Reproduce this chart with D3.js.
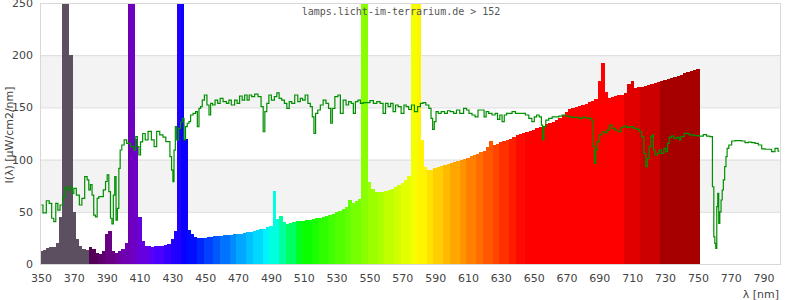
<!DOCTYPE html>
<html><head><meta charset="utf-8">
<script src="https://cdn.jsdelivr.net/npm/d3@7"></script>
<style>body{margin:0;background:#fff}</style>
</head><body><svg id="c" width="800" height="300"></svg>
<script>
// Spectrum (2 nm bins, 350..750 nm), µW/cm2/nm
const specNm = d3.range(350, 751, 2);
const spectrum = [
  12,13,15,16,16,20,45,420,420,200,50,24,17,14,13,
  16,14,11,10,12,29,32,12,11,12,
  14,20,420,420,120,45,22,17,17,16,
  17,17,17,18,19,24,32,420,420,120,
  33,29,26,25,25,25,25.5,26,26.5,27,
  27,27.5,28,28,28.5,28.5,29,30,30.5,31,
  32,33,33.5,34,35,36,70,43,46,40,
  38,39,40,41,41,41.5,42,42.5,43,44,
  44,45,46,47,48,50,51,53,55,61,
  58,60,62,420,420,79,72,69,69,69,
  70,71,72,74,76,78,80,84,420,420,
  420,119,93,90,90,92,93,94,95,96,
  97,98,99,100,101,102,103,104,105,107,
  108,112,118,114,115,117,118,119,120,122,
  123.5,124.5,125.5,126.5,127.5,128,130,131,132,134,
  135,136,138,140,143,146,148,149.5,150.5,151,
  152,153,155,156,158,175,193,165,159,160,
  160.5,161.5,162,164,172,175,169,169.5,170,170.5,
  171.5,172,173,174,175,176,177,178,179,180,
  181.5,182.5,183.5,185,186,186.5
];
// Second (green) curve: [nm, value]
const reference = [
 [350.2,56.5],[352.2,49],[354.3,60.6],[355.7,58],[357.3,43.8],[358.3,40.5],[359.7,58],[360.8,51.7],[362.4,56.5],[364,64.5],
 [365.4,73.4],[366.8,71],[368.5,74],[369.5,67.6],[370.5,72.5],[372.5,66],[374.2,56.5],[375.6,62.9],[377.6,83.6],[378.6,80.5],
 [379.6,71],[380.6,76],[381.6,66],[382.6,46.9],[383.7,45.2],[384.7,62.9],[385.7,64.5],[387.1,64.5],[388.8,71],[389.8,79],
 [390.8,85.3],[391.8,69.3],[392.8,43.8],[393.6,38.3],[394.5,66],[395.3,83.6],[396.1,42],[396.9,53.3],[397.9,91.6],[398.5,109.2],
 [399.9,114],[401.4,118.8],[403,115.6],[406.1,112.4],[407.1,109],[408.3,122],[409.1,112.4],[410.1,104.4],[411.1,117],[412.7,125],
 [414.2,118.8],[416.2,127],[418.2,118.8],[419.6,112.4],[421.3,127],[423.3,123.6],[425.3,121.5],[426.7,117.2],[428,117.2],[429,102.8],
 [430,89.9],[430.6,78.9],[431.4,109],[432.2,131.5],[433,118.8],[434.5,130],[435.5,136],[436.7,139.5],[437.5,118.8],[438.5,131.5],
 [439.6,134.8],[440.6,136.3],[441.6,142.7],[443.6,144.3],[444.7,145.9],[445.7,131.5],[446.7,149],[447.7,150.7],[448.7,157],[450.3,161.9],
 [451.8,152.3],[452.8,142.7],[453.8,153.9],[455.2,152.3],[456.8,157],[458.4,153.9],[459.8,158.7],[461.9,155.5],[463.9,153.9],[464.9,157],
 [466.9,152.3],[468.9,157],[469.9,153.9],[472,160.9],[473,157],[475,161.9],[476,157],[477.5,161.9],[479.1,160.3],[481.1,162.8],
 [483.2,160.3],[484.8,150.7],[485.8,126.7],[486.8,145.9],[488.2,153.9],[489.3,161.9],[491.3,157],[492.9,160.3],[494.3,164],[495.7,158.7],
 [497.4,157],[499,153.9],[500.4,149],[501.9,155.5],[503.5,153.9],[505.5,161.9],[507.2,155.5],[508.6,158.7],[510,157],[511.7,161.9],
 [513.3,153.9],[514.7,150.7],[515.7,141],[516.7,125],[517.7,144.3],[519.4,147.5],[520.8,152.3],[522.8,157],[524.3,153.9],[525.9,149],
 [526.9,134.8],[527.9,149],[530,160.3],[531.6,161.9],[533,144.3],[535,157],[536.5,152.3],[538.1,155.5],[539.7,153.9],[540.7,144.3],
 [542.2,155.5],[543.8,157],[545.2,153.9],[547.2,154.6],[549.2,154.6],[551.4,156.4],[553.4,153.9],[555.5,155.5],[557.5,153.9],[559.1,144.3],
 [560.5,153.9],[562.2,150.7],[563.6,153.9],[565.2,145.9],[566.6,152.3],[568.3,150.7],[570.3,144.3],[571.7,152.3],[573.1,150.7],[574.7,148],
 [576.4,152.3],[578.4,145.9],[580.2,150.7],[581.9,153.9],[583.3,154.6],[585.3,152.3],[587,149],[588,139.5],[589,128.9],[590,136.3],
 [591.1,145.9],[592.7,144.3],[594.7,145.9],[596.8,144.3],[598.2,146.8],[600.2,145.9],[602.3,144.3],[603.7,147.5],[606.3,144.3],[608.4,149],
 [609.8,147.5],[611.4,144.3],[613.5,142.7],[615.1,141],[617.1,147.5],[619.1,147.5],[620.5,141],[621.6,145.9],[623.6,144.3],[625.7,142.7],
 [627.3,144.3],[628.7,138.5],[630.1,142.7],[631.4,136.3],[632.8,142.7],[634.2,144.3],[635.8,144.3],[637.9,145.9],[639.9,144.3],[641.9,144.3],
 [644,144.3],[646,142.7],[648.1,139.5],[649.7,136.3],[651.1,141],[652.5,142.7],[654.2,141],[655.2,133.1],[655.8,118.8],[656.6,131.5],
 [658.2,137.9],[660.2,139.5],[662.3,141],[664.3,141],[666.3,141.7],[668.4,142.7],[670.4,141.7],[672.4,141],[674.5,140.4],[676.5,140.4],
 [678.6,139.5],[680.6,140.4],[682.6,140],[684.6,139.5],[685.7,137.9],[686.7,112.4],[687.3,96.4],[688.3,109.2],[689.3,117.2],[690.8,123.6],
 [692.4,126.7],[694.1,125.8],[695.5,128.3],[696.9,133.1],[698.5,129.9],[700.5,128.3],[702.6,126.7],[704.2,130.9],[705.6,132.1],[707.6,130.9],
 [709.7,131.5],[711.7,129.9],[713.7,128.9],[715.1,126.7],[716.4,122],[717.8,106],[718.8,93.2],[719.8,101.1],[720.8,112.4],[721.9,122],
 [722.5,123.6],[723.3,109.2],[724.5,104.4],[725.9,106],[726.9,109.2],[728.6,106],[730,110.8],[731,107.6],[732,115.6],[733,121.3],
 [734.7,122.5],[736.1,120.3],[738.1,121.3],[739.1,118.8],[740.1,122],[743.2,125.1],[746.2,123.6],[749.2,122.9],[752.3,122.5],[754.3,124],
 [756.3,122.5],[758.3,122],[759.4,74],[760,26],[760.6,19.8],[761.2,15],[761.8,55],[762.4,67.6],[763,39],[763.7,50],
 [764.5,61.3],[765.1,70.9],[765.9,80.5],[766.7,93.2],[767.5,102.8],[768.1,110.8],[769.6,114],[771.6,117.8],[773.6,118.2],[775.7,118.2],
 [777.7,117.8],[779.7,116.2],[781.7,116.8],[783.8,116.2],[785.8,115.6],[787.8,114],[789.9,110.2],[791.9,109.9],[793.9,109.9],[795.9,107.6],
 [798,110.8],[799.6,108.2]
];
const xTicks = d3.range(350, 791, 20);
const yTicks = [0, 50, 100, 150, 200, 250];
const title = "lamps.licht-im-terrarium.de > 152";
const xLabel = "λ [nm]";
const yLabel = "I(λ) [µW/cm2/nm]";

const svg = d3.select("#c");
const L = 41, R = 780, T = 3, B = 264;
const x = d3.scaleLinear().domain([350, 800]).range([L, R]);
const y = d3.scaleLinear().domain([0, 250]).range([B, T]);

function waveColor(w) {
  if (w < 379) return "#5c5060";
  const q = Math.floor(w / 5) * 5 + 2.5;
  let r, g, b;
  if (q < 440) { r = (440 - q) / 60; g = 0; b = 1; }
  else if (q < 490) { r = 0; g = (q - 440) / 50; b = 1; }
  else if (q < 510) { r = 0; g = 1; b = (510 - q) / 20; }
  else if (q < 580) { r = (q - 510) / 70; g = 1; b = 0; }
  else if (q < 645) { r = 1; g = (645 - q) / 65; b = 0; }
  else { r = 1; g = 0; b = 0; }
  let f = 1;
  if (q < 420) f = 0.3 + 0.7 * (q - 380) / 40;
  else if (w >= 727) f = 0.65;
  else if (w >= 716) f = 0.8;
  else if (w >= 705) f = 0.88;
  return d3.rgb(r * f * 255, g * f * 255, b * f * 255).formatHex();
}

// bands
svg.append("g").selectAll("rect").data([[50, 100], [150, 200]]).join("rect")
  .attr("x", L).attr("width", R - L)
  .attr("y", d => y(d[1])).attr("height", d => y(d[0]) - y(d[1]))
  .attr("fill", "#f3f3f3");
// grid
svg.append("g").selectAll("line").data(yTicks.filter(v => v > 0)).join("line")
  .attr("x1", L).attr("x2", R).attr("y1", d => y(d) + 0.5).attr("y2", d => y(d) + 0.5)
  .attr("stroke", "#dcdcdc");

svg.append("clipPath").attr("id", "clip").append("rect")
  .attr("x", L).attr("y", T).attr("width", R - L).attr("height", B - T);

const plot = svg.append("g").attr("clip-path", "url(#clip)");
plot.append("g").attr("shape-rendering", "crispEdges").selectAll("rect")
  .data(specNm.map((w, i) => ({ w, v: spectrum[i] }))).join("rect")
  .attr("x", d => x(d.w - 1)).attr("width", d => x(d.w + 1) - x(d.w - 1) + 0.4)
  .attr("y", d => y(d.v)).attr("height", d => B - y(d.v))
  .attr("fill", d => waveColor(d.w));

plot.append("path").datum(reference)
  .attr("d", d3.line().x(d => x(d[0])).y(d => y(d[1])).curve(d3.curveStep))
  .attr("fill", "none").attr("stroke", "#008f00").attr("stroke-width", 1.2);

// frame
svg.append("rect").attr("x", L - 0.5).attr("y", T + 0.5).attr("width", R - L + 1).attr("height", B - T)
  .attr("fill", "none").attr("stroke", "#d8d8d8");

// axes
const xAxis = d3.axisBottom(x).tickValues(xTicks).tickSize(0).tickPadding(10);
const gx = svg.append("g").attr("transform", `translate(0,${B})`).call(xAxis);
const yAxis = d3.axisLeft(y).tickValues(yTicks).tickSize(0).tickPadding(8);
const gy = svg.append("g").attr("transform", `translate(${L},0)`).call(yAxis);
[gx, gy].forEach(g => {
  g.select(".domain").remove();
  g.selectAll("text").attr("font-family", "DejaVu Sans").attr("font-size", 11).attr("fill", "#444");
});

svg.append("text").attr("x", 401).attr("y", 14.5).attr("text-anchor", "middle")
  .attr("font-family", "DejaVu Sans Mono").attr("font-size", 10).attr("fill", "#555").text(title);
svg.append("text").attr("x", 779).attr("y", 298).attr("text-anchor", "end")
  .attr("font-family", "DejaVu Sans").attr("font-size", 11).attr("fill", "#444").text(xLabel);
svg.append("text").attr("transform", "translate(13,135) rotate(-90)").attr("text-anchor", "middle")
  .attr("font-family", "DejaVu Sans").attr("font-size", 11).attr("fill", "#444").text(yLabel);
</script></body></html>
